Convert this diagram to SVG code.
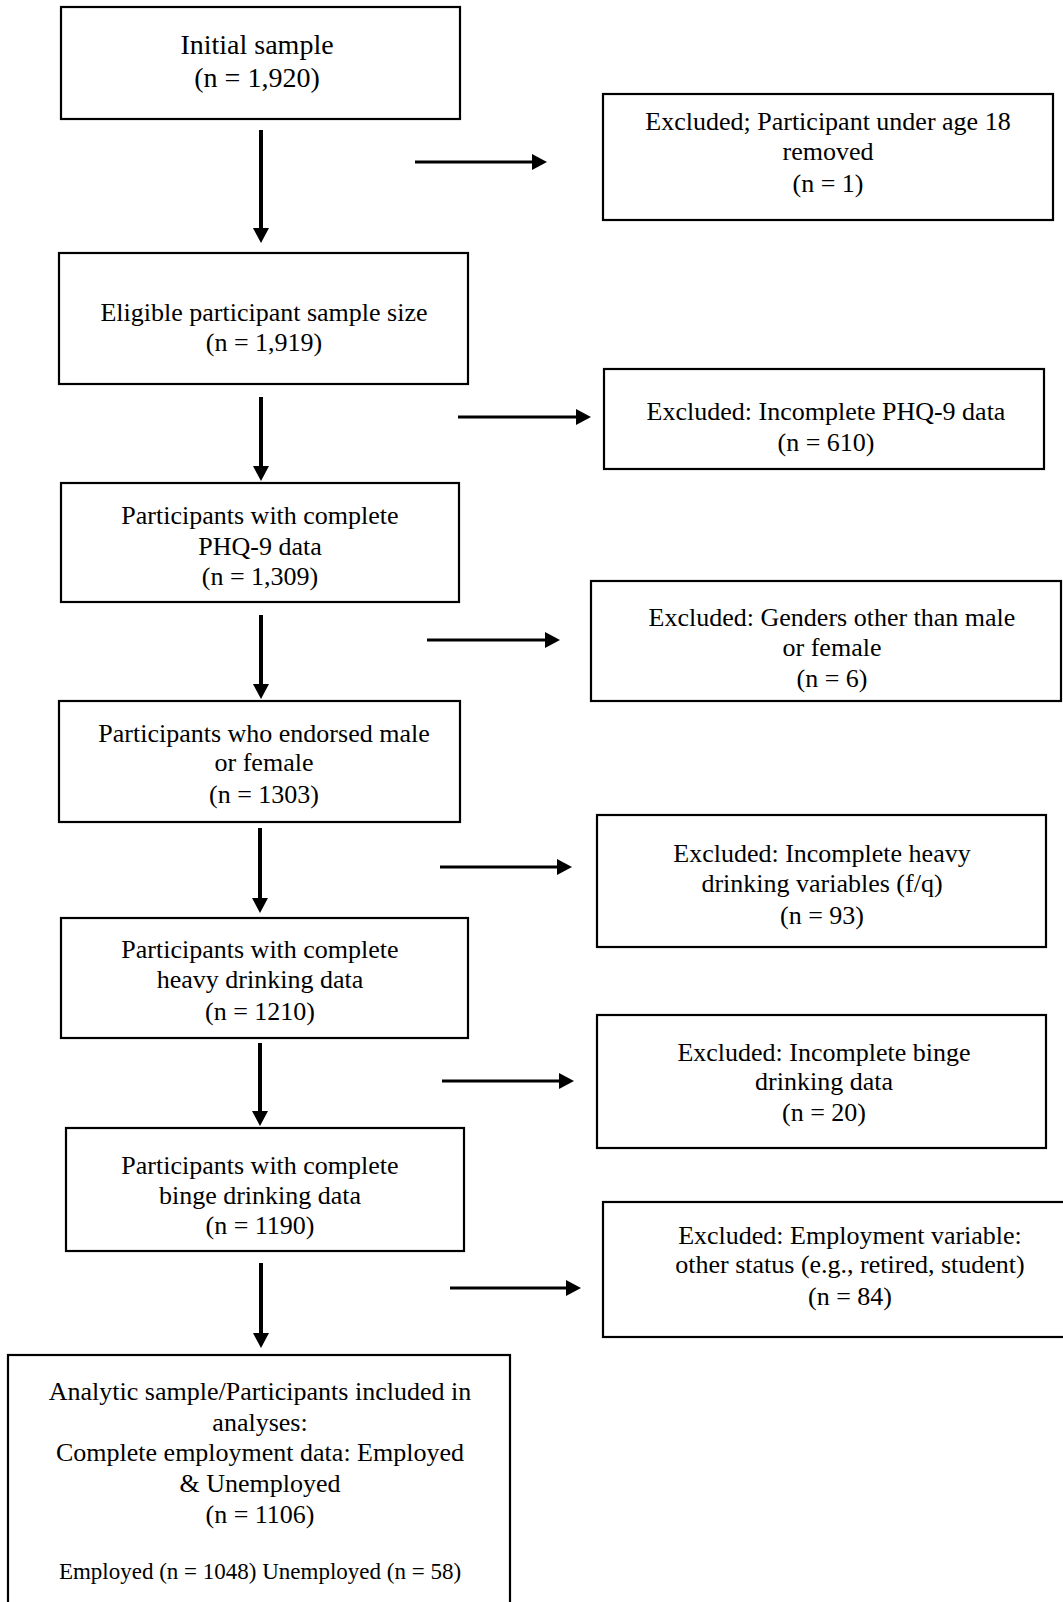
<svg xmlns="http://www.w3.org/2000/svg" width="1063" height="1602" viewBox="0 0 1063 1602">
<style>
  .box { fill: #ffffff; stroke: #000000; stroke-width: 2.2; }
  .t { font-family: "Liberation Serif", "Times New Roman", serif; font-size: 26px; fill: #000000; text-anchor: middle; }
  .big { font-size: 28px; }
  .small { font-size: 23px; }
  .v { stroke: #000000; stroke-width: 4; fill: none; marker-end: url(#headV); }
  .h { stroke: #000000; stroke-width: 3; fill: none; marker-end: url(#headH); }
</style>
<defs>
  <marker id="headV" markerUnits="userSpaceOnUse" markerWidth="17" markerHeight="17" refX="0" refY="8" orient="auto">
    <path d="M0,0 L15,8 L0,16 Z" fill="#000000"/>
  </marker>
  <marker id="headH" markerUnits="userSpaceOnUse" markerWidth="17" markerHeight="17" refX="0" refY="8" orient="auto">
    <path d="M0,0 L15,8 L0,16 Z" fill="#000000"/>
  </marker>
</defs>
<rect x="0" y="0" width="1063" height="1602" fill="#ffffff"/>

<g id="n1">
  <rect class="box" x="61" y="7" width="399" height="112"/>
  <text class="t big" x="257" y="54">Initial sample</text>
  <text class="t big" x="257" y="87">(n = 1,920)</text>
</g>
<g id="e1">
  <rect class="box" x="603" y="94" width="450" height="126"/>
  <text class="t" x="828" y="130">Excluded; Participant under age 18</text>
  <text class="t" x="828" y="160">removed</text>
  <text class="t" x="828" y="192">(n = 1)</text>
</g>
<g id="n2">
  <rect class="box" x="59" y="253" width="409" height="131"/>
  <text class="t" x="264" y="321">Eligible participant sample size</text>
  <text class="t" x="264" y="351">(n = 1,919)</text>
</g>
<g id="e2">
  <rect class="box" x="604" y="369" width="440" height="100"/>
  <text class="t" x="826" y="420">Excluded: Incomplete PHQ-9 data</text>
  <text class="t" x="826" y="451">(n = 610)</text>
</g>
<g id="n3">
  <rect class="box" x="61" y="483" width="398" height="119"/>
  <text class="t" x="260" y="524">Participants with complete</text>
  <text class="t" x="260" y="555">PHQ-9 data</text>
  <text class="t" x="260" y="585">(n = 1,309)</text>
</g>
<g id="e3">
  <rect class="box" x="591" y="581" width="470" height="120"/>
  <text class="t" x="832" y="626">Excluded: Genders other than male</text>
  <text class="t" x="832" y="656">or female</text>
  <text class="t" x="832" y="687">(n = 6)</text>
</g>
<g id="n4">
  <rect class="box" x="59" y="701" width="401" height="121"/>
  <text class="t" x="264" y="742">Participants who endorsed male</text>
  <text class="t" x="264" y="771">or female</text>
  <text class="t" x="264" y="803">(n = 1303)</text>
</g>
<g id="e4">
  <rect class="box" x="597" y="815" width="449" height="132"/>
  <text class="t" x="822" y="862">Excluded: Incomplete heavy</text>
  <text class="t" x="822" y="892">drinking variables (f/q)</text>
  <text class="t" x="822" y="924">(n = 93)</text>
</g>
<g id="n5">
  <rect class="box" x="61" y="918" width="407" height="120"/>
  <text class="t" x="260" y="958">Participants with complete</text>
  <text class="t" x="260" y="988">heavy drinking data</text>
  <text class="t" x="260" y="1020">(n = 1210)</text>
</g>
<g id="e5">
  <rect class="box" x="597" y="1015" width="449" height="133"/>
  <text class="t" x="824" y="1061">Excluded: Incomplete binge</text>
  <text class="t" x="824" y="1090">drinking data</text>
  <text class="t" x="824" y="1121">(n = 20)</text>
</g>
<g id="n6">
  <rect class="box" x="66" y="1128" width="398" height="123"/>
  <text class="t" x="260" y="1174">Participants with complete</text>
  <text class="t" x="260" y="1204">binge drinking data</text>
  <text class="t" x="260" y="1234">(n = 1190)</text>
</g>
<g id="e6">
  <rect class="box" x="603" y="1202" width="462" height="135"/>
  <text class="t" x="850" y="1244">Excluded: Employment variable:</text>
  <text class="t" x="850" y="1273">other status (e.g., retired, student)</text>
  <text class="t" x="850" y="1305">(n = 84)</text>
</g>
<g id="n7">
  <rect class="box" x="8" y="1355" width="502" height="270"/>
  <text class="t" x="260" y="1400">Analytic sample/Participants included in</text>
  <text class="t" x="260" y="1431">analyses:</text>
  <text class="t" x="260" y="1461">Complete employment data: Employed</text>
  <text class="t" x="260" y="1492">&amp; Unemployed</text>
  <text class="t" x="260" y="1523">(n = 1106)</text>
  <text class="t small" x="260" y="1579">Employed (n = 1048) Unemployed (n = 58)</text>
</g>

<g id="connectors">
  <line class="v" x1="261" y1="130" x2="261" y2="228"/>
  <line class="v" x1="261" y1="397" x2="261" y2="466"/>
  <line class="v" x1="261" y1="615" x2="261" y2="684"/>
  <line class="v" x1="260" y1="828" x2="260" y2="898"/>
  <line class="v" x1="260" y1="1043" x2="260" y2="1111"/>
  <line class="v" x1="261" y1="1263" x2="261" y2="1333"/>
  <line class="h" x1="415" y1="162" x2="532" y2="162"/>
  <line class="h" x1="458" y1="417" x2="576" y2="417"/>
  <line class="h" x1="427" y1="640" x2="545" y2="640"/>
  <line class="h" x1="440" y1="867" x2="557" y2="867"/>
  <line class="h" x1="442" y1="1081" x2="559" y2="1081"/>
  <line class="h" x1="450" y1="1288" x2="566" y2="1288"/>
</g>
</svg>
